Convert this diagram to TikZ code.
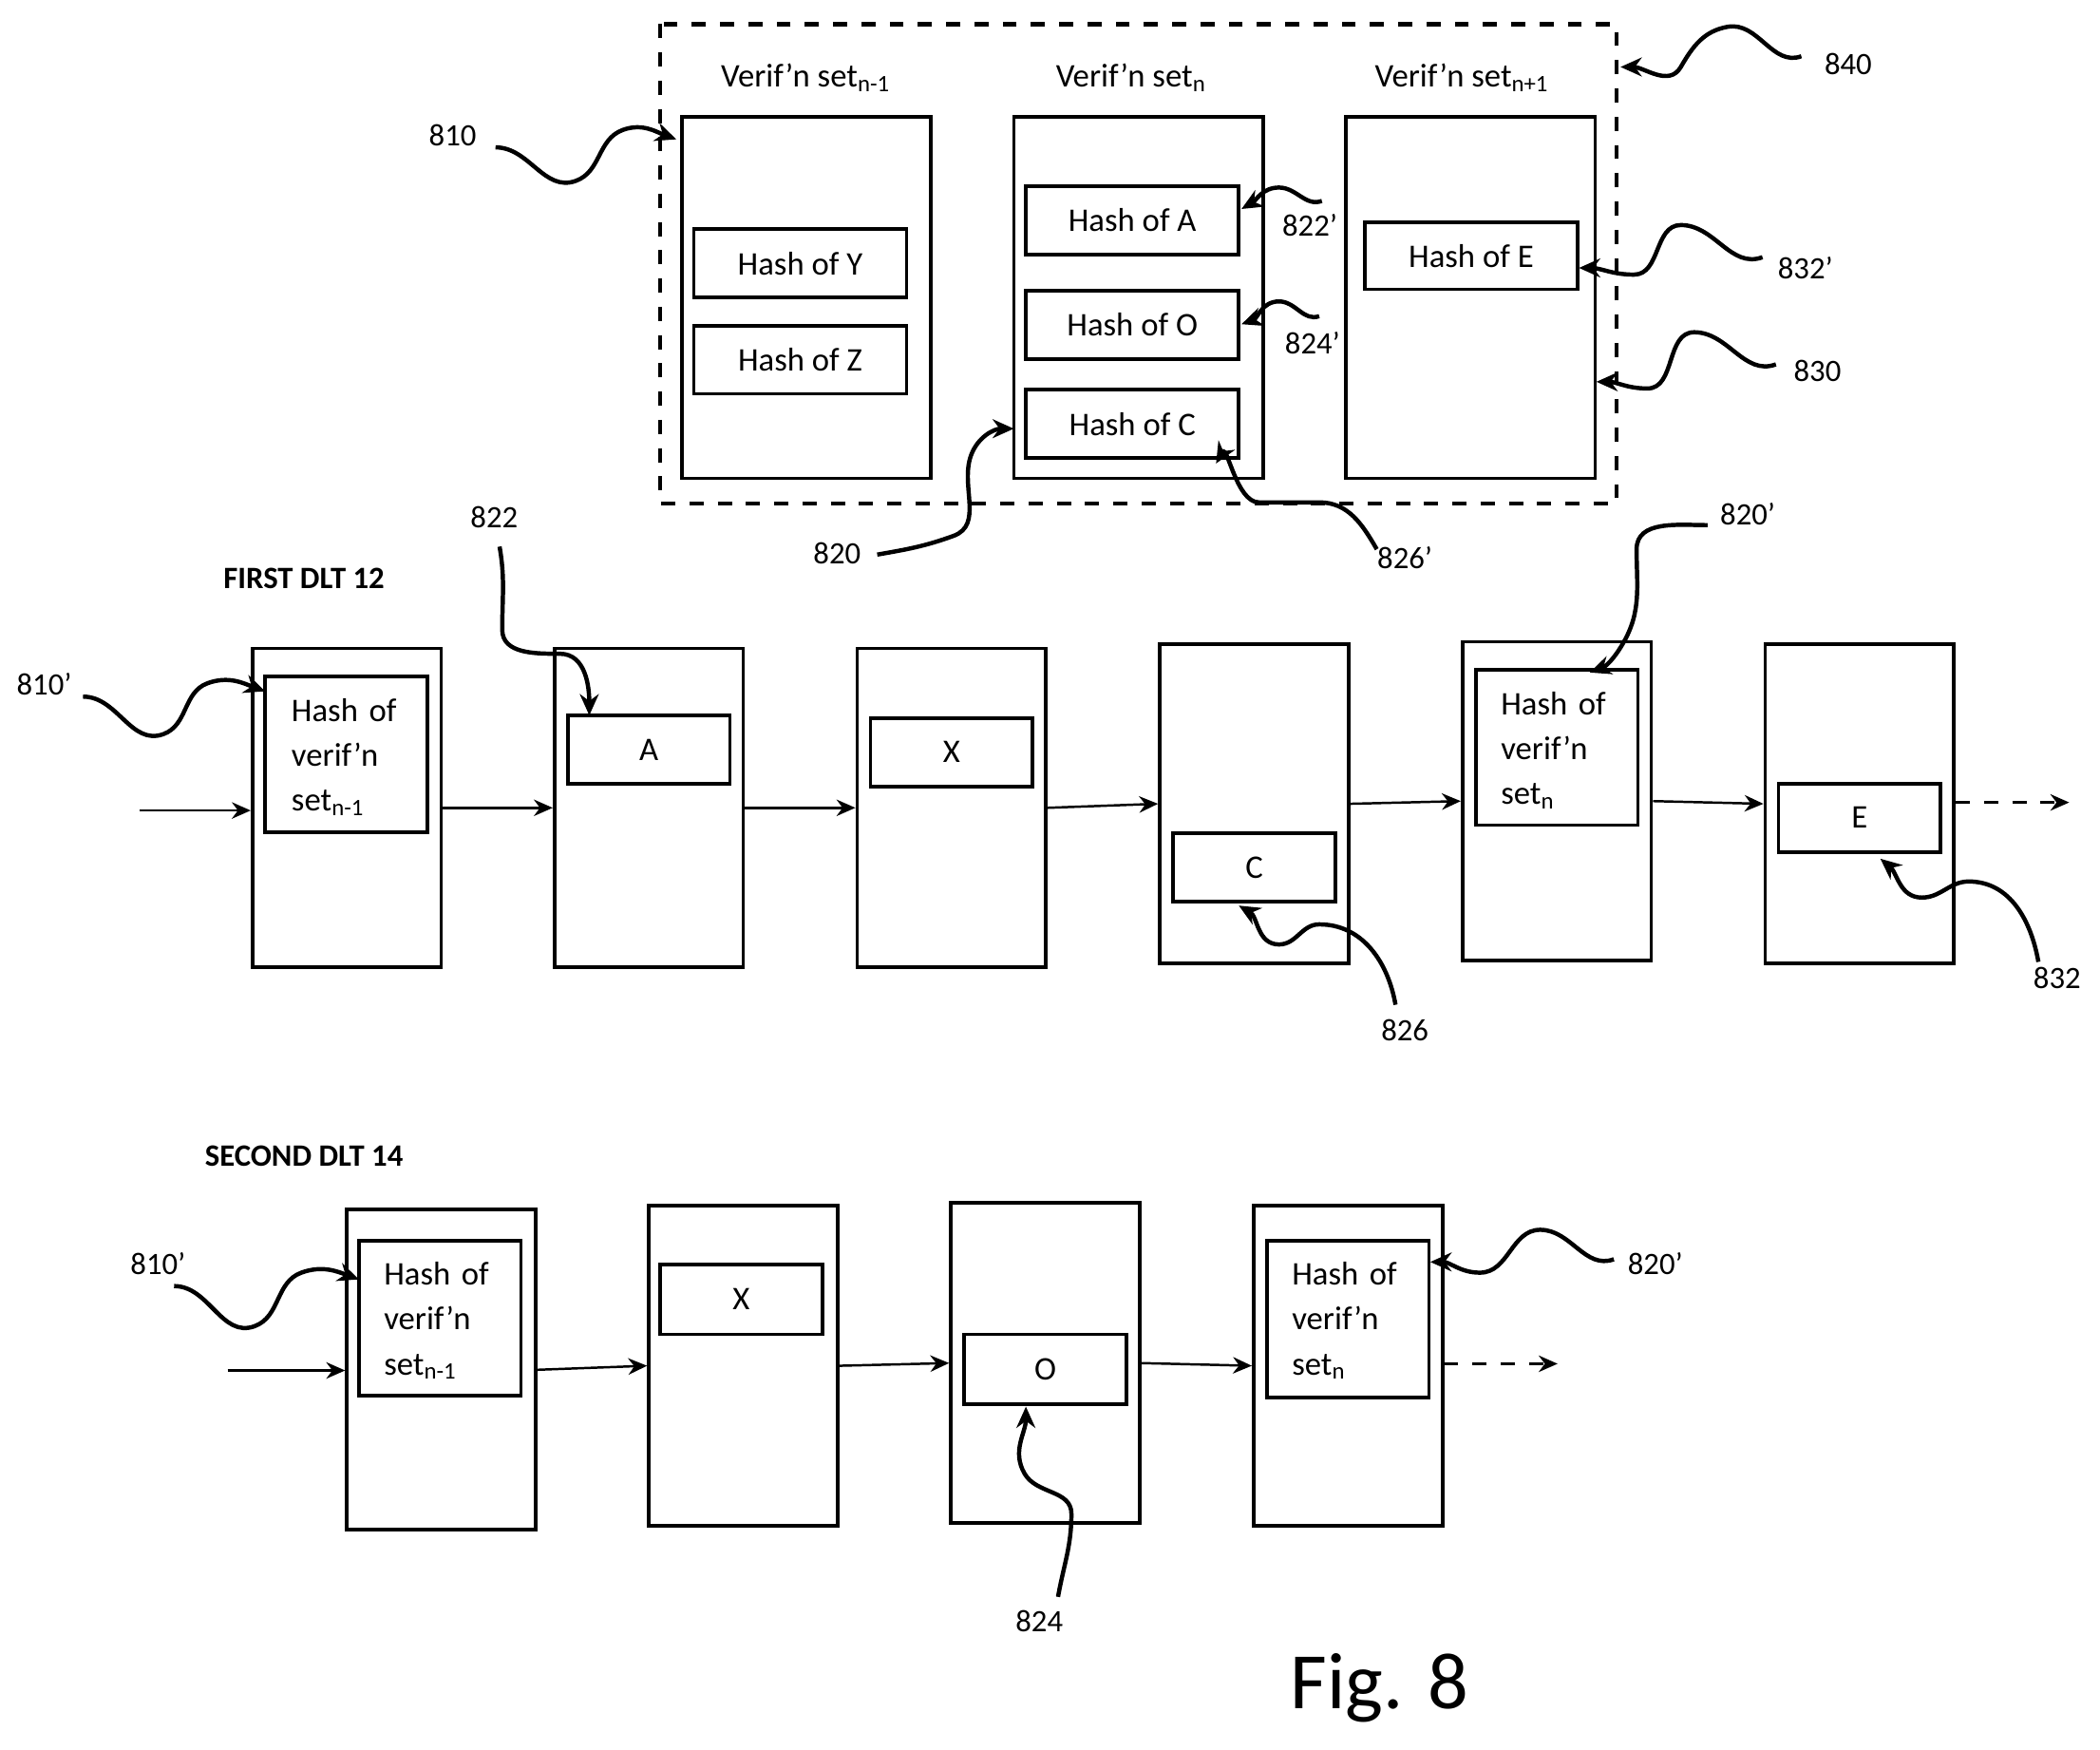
\documentclass[tikz,border=0pt]{standalone}
\usepackage{fontspec}
\setmainfont{Carlito}
\usetikzlibrary{arrows.meta}
\begin{document}
\begin{tikzpicture}[x=0.01cm,y=-0.01cm,
  box/.style={draw,line width=0.75pt},
  sz/.style 2 args={minimum width=#1*0.01cm,minimum height=#2*0.01cm},
  tx/.style={font=\fontsize{7}{8.5}\selectfont},
  lbl/.style={font=\fontsize{6.6}{8}\selectfont},
  hd/.style={font=\bfseries\fontsize{6.6}{8}\selectfont},
  ml/.style={align=left,text width=1.0cm,inner sep=0pt},
  link/.style={-{Stealth[length=4pt,width=3.5pt]},line width=0.5pt},
  dlink/.style={link,dashed},
  lead/.style={-{Stealth[length=4.5pt,width=4pt]},line width=0.9pt}]
\useasboundingbox (0,0) rectangle (1568,1306);
\newcommand{\sbs}[1]{\textsubscript{#1}}
% dashed container
\draw[dashed,line width=0.9pt] (493,18) rectangle (1207,376);
\node[box,sz={186}{270}] (vs1) at (602,222) {};
\node[box,sz={186}{270}] (vs2) at (850,222) {};
\node[box,sz={186}{270}] (vs3) at (1098,222) {};
\node[tx] (t1) at (602,58) {Verif'n set\sbs{n-1}};
\node[tx] (t2) at (845,58) {Verif'n set\sbs{n}};
\node[tx] (t3) at (1092,58) {Verif'n set\sbs{n+1}};
\node[box,tx,sz={159}{51}] (hy) at (597.5,196.5) {Hash of Y};
\node[box,tx,sz={159}{51}] (hz) at (597.5,268.5) {Hash of Z};
\node[box,tx,sz={159}{51}] (ha) at (845.5,164.5) {Hash of A};
\node[box,tx,sz={159}{51}] (ho) at (845.5,242.5) {Hash of O};
\node[box,tx,sz={159}{51}] (hc) at (845.5,316.5) {Hash of C};
\node[box,tx,sz={159}{50}] (he) at (1098.5,191) {Hash of E};
% first DLT
\node[hd] (d1) at (227,432) {FIRST DLT 12};
\foreach \n/\x/\y in {a1/259/603,a2/484.5/603,a3/710.5/603,a4/936.5/600,a5/1162.5/598,a6/1388.5/600}
  \node[box,sz={141}{238}] (\n) at (\x,\y) {};
\node[box,tx,sz={121}{116}] (b1) at (258.5,563) {};
\node[tx,ml,anchor=west] at (217,565) {Hash of\\[1pt] verif'n\\[1pt] set\sbs{n-1}};
\node[box,tx,sz={121}{51}] (bA) at (484.5,559.5) {A};
\node[box,tx,sz={121}{51}] (bX) at (710.5,561.5) {X};
\node[box,tx,sz={121}{51}] (bC) at (936.5,647.5) {C};
\node[box,tx,sz={121}{116}] (b5) at (1162.5,558) {};
\node[tx,ml,anchor=west] at (1120,560) {Hash of\\[1pt] verif'n\\[1pt] set\sbs{n}};
\node[box,tx,sz={121}{51}] (bE) at (1388.5,610.5) {E};
\coordinate (s1) at (104,605);
\coordinate (e1) at (1545,599);
\draw[link] (s1) -- (a1.west|-s1);
\draw[link] (a1.east) -- (a2.west);
\draw[link] (a2.east) -- (a3.west);
\draw[link] (a3.east) -- (a4.west);
\draw[link] (a4.east) -- (a5.west);
\draw[link] (a5.east) -- (a6.west);
\draw[dlink] (a6.east|-e1) -- (e1);
% second DLT
\node[hd] (d2) at (227,863) {SECOND DLT 14};
\foreach \n/\x/\y in {c1/329.5/1022.5,c2/555/1019.5,c3/780.5/1017.5,c4/1006.5/1019.5}
  \node[box,sz={141}{239}] (\n) at (\x,\y) {};
\node[box,tx,sz={121}{116}] (g1) at (328.5,984) {};
\node[tx,ml,anchor=west] at (286,986) {Hash of\\[1pt] verif'n\\[1pt] set\sbs{n-1}};
\node[box,tx,sz={121}{52}] (gX) at (553.5,970) {X};
\node[box,tx,sz={121}{52}] (gO) at (780.5,1022) {O};
\node[box,tx,sz={121}{117}] (g4) at (1006.5,984.5) {};
\node[tx,ml,anchor=west] at (964,986) {Hash of\\[1pt] verif'n\\[1pt] set\sbs{n}};
\coordinate (s2) at (170,1023);
\coordinate (e2) at (1163,1018);
\draw[link] (s2) -- (c1.west|-s2);
\draw[link] (c1.east) -- (c2.west);
\draw[link] (c2.east) -- (c3.west);
\draw[link] (c3.east) -- (c4.west);
\draw[dlink] (c4.east|-e2) -- (e2);
% reference labels and leaders
\node[lbl] (l840) at (1380,48) {840};
\draw[lead] (1345,42) to[out=200,in=10] (1290,20) to[out=190,in=60] (1255,50) to[out=240,in=0] (1210,50);
\node[lbl] (l810) at (338,101) {810};
\draw[lead] (370,110) to[out=0,in=200] (430,135) to[out=20,in=200] (465,97) to[out=20,in=160] (505,104);
\node[lbl] (l822p) at (978,168) {822'};
\draw[lead] (987,150) to[out=200,in=0] (955,140) to[out=180,in=30] (927,156);
\node[lbl] (l824p) at (980,256) {824'};
\draw[lead] (985,236) to[out=200,in=0] (955,225) to[out=180,in=20] (927,242);
\node[lbl] (l832p) at (1348,200) {832'};
\draw[lead] (1316,192) to[out=200,in=0] (1255,168) to[out=180,in=0] (1220,205) to[out=180,in=0] (1179,200);
\node[lbl] (l830) at (1357,277) {830};
\draw[lead] (1326,272) to[out=200,in=0] (1265,248) to[out=180,in=0] (1230,290) to[out=180,in=0] (1192,285);
\node[lbl] (l826p) at (1049,416) {826'};
\draw[lead] (1028,410) to[out=120,in=0] (985,375) to[out=180,in=0] (940,375) to[out=180,in=60] (908,346);
\node[lbl] (l820) at (625,413) {820};
\draw[lead] (655,414) to[out=10,in=200] (712,400) to[out=20,in=250] (725,340) to[out=70,in=180] (757,320);
\node[lbl] (l822) at (369,386) {822};
\draw[lead] (373,408) to[out=280,in=90] (375,470) to[out=270,in=180] (418,488) to[out=0,in=90] (440,534);
\node[lbl] (l820pp) at (1305,384) {820'};
\draw[lead] (1275,392) to[out=180,in=90] (1222,410) to[out=270,in=60] (1212,480) to[out=240,in=20] (1187,502);
\node[lbl] (l810p) at (33,511) {810'};
\draw[lead] (62,520) to[out=0,in=200] (122,548) to[out=20,in=200] (155,510) to[out=20,in=160] (198,516);
\node[lbl] (l826) at (1049,769) {826};
\draw[lead] (1042,750) to[out=100,in=0] (985,690) to[out=180,in=0] (955,705) to[out=180,in=330] (925,676);
\node[lbl] (l832) at (1536,730) {832};
\draw[lead] (1522,718) to[out=100,in=0] (1470,658) to[out=180,in=0] (1435,670) to[out=180,in=320] (1404,641);
\node[lbl] (l810q) at (118,943) {810'};
\draw[lead] (130,960) to[out=0,in=200] (190,990) to[out=20,in=200] (225,950) to[out=20,in=160] (268,955);
\node[lbl] (l824) at (776,1210) {824};
\draw[lead] (790,1192) to[out=80,in=270] (800,1130) to[out=90,in=300] (765,1100) to[out=120,in=270] (766,1050);
\node[lbl] (l820q) at (1236,943) {820'};
\draw[lead] (1205,940) to[out=200,in=0] (1150,918) to[out=180,in=0] (1105,950) to[out=180,in=0] (1068,942);
\node[font=\fontsize{17}{20}\selectfont] (fig) at (1030,1260) {Fig. 8};
\end{tikzpicture}
\end{document}
